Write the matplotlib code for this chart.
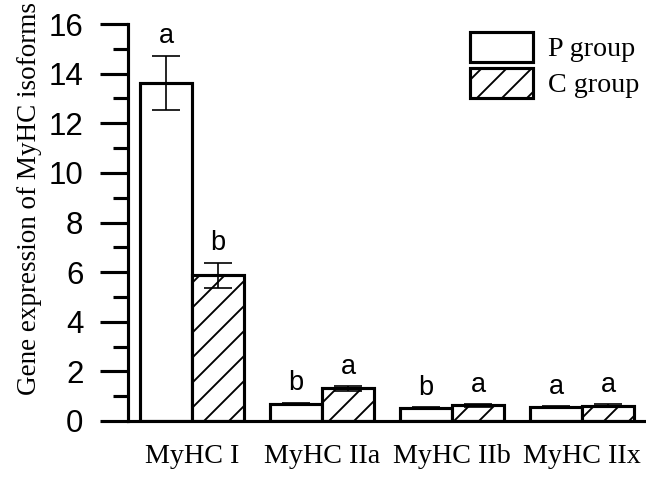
import numpy as np
import matplotlib
matplotlib.use('Agg')
import matplotlib.pyplot as plt
from matplotlib.ticker import MultipleLocator

groups = ['MyHC I', 'MyHC IIa', 'MyHC IIb', 'MyHC IIx']
p_mean = [13.63, 0.70, 0.52, 0.56]
p_err = [1.10, 0.04, 0.03, 0.04]
c_mean = [5.88, 1.32, 0.63, 0.62]
c_err = [0.50, 0.10, 0.05, 0.05]
p_sig = ['a', 'b', 'b', 'a']
c_sig = ['b', 'a', 'a', 'a']

plt.rcParams['hatch.linewidth'] = 0.9
serif = 'Liberation Serif'
sans = 'Liberation Sans'

dpi = 150
fig = plt.figure(figsize=(646 / dpi, 477 / dpi), dpi=dpi)
ax = fig.add_axes([128 / 646, 1 - 421 / 477, 1 - 128 / 646, 397 / 477])

x = np.arange(len(groups))
w = 0.4
lw = 1.5
ax.bar(x - w / 2, p_mean, w, color='white', edgecolor='black', linewidth=lw,
       label='P group', zorder=2)
ax.bar(x + w / 2, c_mean, w, color='white', edgecolor='black', linewidth=lw,
       hatch='//', label='C group', zorder=2)
ax.errorbar(x - w / 2, p_mean, yerr=p_err, fmt='none', ecolor='black',
            elinewidth=0.8, capsize=6.5, capthick=0.8, zorder=3)
ax.errorbar(x + w / 2, c_mean, yerr=c_err, fmt='none', ecolor='black',
            elinewidth=0.8, capsize=6.5, capthick=0.8, zorder=3)

for i in range(len(groups)):
    ax.annotate(p_sig[i], (x[i] - w / 2, p_mean[i] + p_err[i]), xytext=(0, 3),
                textcoords='offset points', ha='center', va='bottom',
                fontsize=13, family=sans)
    ax.annotate(c_sig[i], (x[i] + w / 2, c_mean[i] + c_err[i]), xytext=(0, 3),
                textcoords='offset points', ha='center', va='bottom',
                fontsize=13, family=sans)

ax.set_xlim(-0.492, 3.492)
ax.set_ylim(0, 16)
ax.yaxis.set_major_locator(MultipleLocator(2))
ax.yaxis.set_minor_locator(MultipleLocator(1))
ax.set_xticks(x)
ax.set_xticklabels(groups, family=serif, fontsize=13.5)
ax.tick_params(axis='x', length=0, pad=11)
ax.tick_params(axis='y', which='major', length=13.4, width=1.5, pad=8,
               labelsize=15)
ax.tick_params(axis='y', which='minor', length=7.2, width=1.5)
for lab in ax.get_yticklabels():
    lab.set_family(sans)

for s in ['top', 'right']:
    ax.spines[s].set_visible(False)
for s in ['left', 'bottom']:
    ax.spines[s].set_linewidth(1.5)

ax.set_ylabel('Gene expression of MyHC isoforms', family=serif, fontsize=13)
ax.yaxis.set_label_coords(-0.166, 0.56)

ax.legend(loc='upper left', bbox_to_anchor=(470 / 646, 1 - 32 / 477),
          bbox_transform=fig.transFigure, frameon=False,
          prop={'family': serif, 'size': 13.5}, borderpad=0, borderaxespad=0,
          handlelength=2.24, handleheight=1.25, labelspacing=0.2,
          handletextpad=0.53)

fig.savefig('out.png', dpi=dpi)
